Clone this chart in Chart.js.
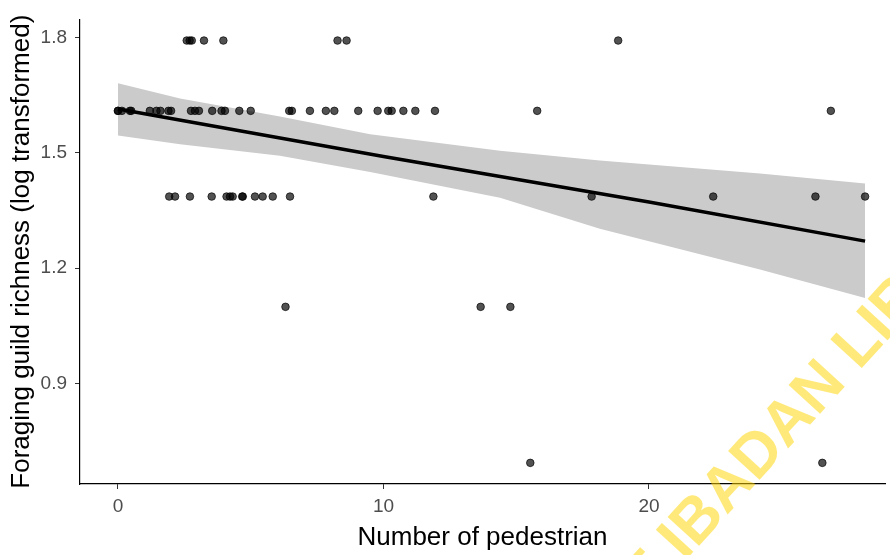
<!DOCTYPE html>
<html>
<head>
<meta charset="utf-8">
<script src="https://cdn.jsdelivr.net/npm/chart.js@4.4.1/dist/chart.umd.min.js"></script>
<style>
  html, body { margin: 0; padding: 0; background: #fff; }
  #chart { display: block; }
</style>
</head>
<body>
<canvas id="chart" width="890" height="555"></canvas>
<script>
// observed points, grouped by richness level (ln of guild count)
const row179x = [2.59, 2.7, 2.78, 3.24, 3.97, 8.27, 8.61, 18.84];
const row161x = [0, 0, 0.15, 0.45, 0.5, 1.2, 1.45, 1.6, 1.9, 2.0, 2.75, 2.9, 3.05, 3.55, 3.9, 4.03,
                 4.57, 5.0, 6.45, 6.55, 7.23, 7.83, 8.15, 9.05, 9.78, 10.18, 10.31, 10.75, 11.2,
                 11.94, 15.79, 26.85];
const row139x = [1.93, 2.15, 2.71, 3.53, 4.09, 4.22, 4.32, 4.68, 4.7, 5.16, 5.45, 5.83, 6.48,
                 11.88, 17.84, 22.42, 26.27, 28.14];
const row110x = [6.31, 13.66, 14.78];
const row069x = [15.53, 26.53];
const rowLevels = [1.792, 1.609, 1.386, 1.099, 0.693];

// fitted line and its confidence band
const fitX = [0, 10, 20, 28.14];
const fitY = [1.614, 1.49, 1.372, 1.27];
const bandX = [0, 2.34, 6.1, 9.5, 14.39, 18.15, 24.18, 28.14];
const bandUpper = [1.681, 1.641, 1.594, 1.548, 1.505, 1.48, 1.446, 1.42];
const bandLower = [1.545, 1.522, 1.492, 1.45, 1.383, 1.302, 1.196, 1.122];

const xTicks = [0, 10, 20];
const yTicks = [0.9, 1.2, 1.5, 1.8];

const rows = [row179x, row161x, row139x, row110x, row069x];
const points = [];
rows.forEach((xs, i) => xs.forEach(x => points.push({ x: x, y: rowLevels[i] })));

const zip = (xs, ys) => xs.map((x, i) => ({ x: x, y: ys[i] }));

const watermark = {
    id: 'watermark',
    afterDraw(chart) {
        const ctx = chart.ctx;
        ctx.save();
        ctx.font = 'bold 62px "Liberation Sans", Arial, sans-serif';
        ctx.fillStyle = 'rgba(255, 212, 0, 0.52)';
        ctx.textBaseline = 'middle';
        ctx.textAlign = 'left';
        ctx.translate(672, 550);
        ctx.rotate(-47.5 * Math.PI / 180);
        const pre = 'UNIVERSITY OF ';
        ctx.fillText(pre + 'IBADAN LIBRARY', -ctx.measureText(pre).width, 0);
        ctx.restore();
    }
};

const tickFont = { family: '"Liberation Sans", Arial, sans-serif', size: 19 };
const titleFont = { family: '"Liberation Sans", Arial, sans-serif', size: 26 };

new Chart(document.getElementById('chart'), {
    type: 'scatter',
    data: {
        datasets: [
            {
                data: points,
                order: 0,
                pointRadius: 3.8,
                pointBorderWidth: 1,
                backgroundColor: 'rgba(0,0,0,0.68)',
                borderColor: 'rgba(0,0,0,0.68)'
            },
            {
                data: zip(fitX, fitY),
                order: 1,
                showLine: true,
                pointRadius: 0,
                borderColor: '#000',
                borderWidth: 3.5
            },
            {
                data: zip(bandX, bandUpper),
                order: 2,
                showLine: true,
                pointRadius: 0,
                borderWidth: 0,
                borderColor: 'rgba(0,0,0,0)',
                backgroundColor: '#cbcbcb',
                fill: 3
            },
            {
                data: zip(bandX, bandLower),
                order: 3,
                showLine: true,
                pointRadius: 0,
                borderWidth: 0,
                borderColor: 'rgba(0,0,0,0)',
                fill: false
            }
        ]
    },
    options: {
        responsive: false,
        animation: false,
        devicePixelRatio: 1,
        layout: { padding: { left: 0, top: 9, right: 0, bottom: 0 } },
        plugins: { legend: { display: false }, tooltip: { enabled: false } },
        scales: {
            x: {
                type: 'linear',
                min: -1.43,
                max: 28.89,
                afterBuildTicks: s => { s.ticks = xTicks.map(v => ({ value: v })); },
                afterFit: s => { s.height = 71; },
                grid: { drawOnChartArea: false, drawTicks: true, tickLength: 5, tickColor: '#333', tickWidth: 1 },
                border: { display: true, color: '#000', width: 1.2 },
                ticks: { color: '#4d4d4d', font: tickFont, padding: 6 },
                title: { display: true, text: 'Number of pedestrian', color: '#000', font: titleFont, padding: { top: 0, bottom: 2 } }
            },
            y: {
                type: 'linear',
                min: 0.638,
                max: 1.847,
                afterBuildTicks: s => { s.ticks = yTicks.map(v => ({ value: v })); },
                afterFit: s => { s.width = 80; },
                grid: { drawOnChartArea: false, drawTicks: true, tickLength: 5, tickColor: '#333', tickWidth: 1 },
                border: { display: true, color: '#000', width: 1.2 },
                ticks: { color: '#4d4d4d', font: tickFont, padding: 8, callback: v => v.toFixed(1) },
                title: { display: true, text: 'Foraging guild richness (log transformed)', color: '#000', font: titleFont, padding: { top: 6, bottom: 0 } }
            }
        }
    },
    plugins: [watermark]
});
</script>
</body>
</html>
